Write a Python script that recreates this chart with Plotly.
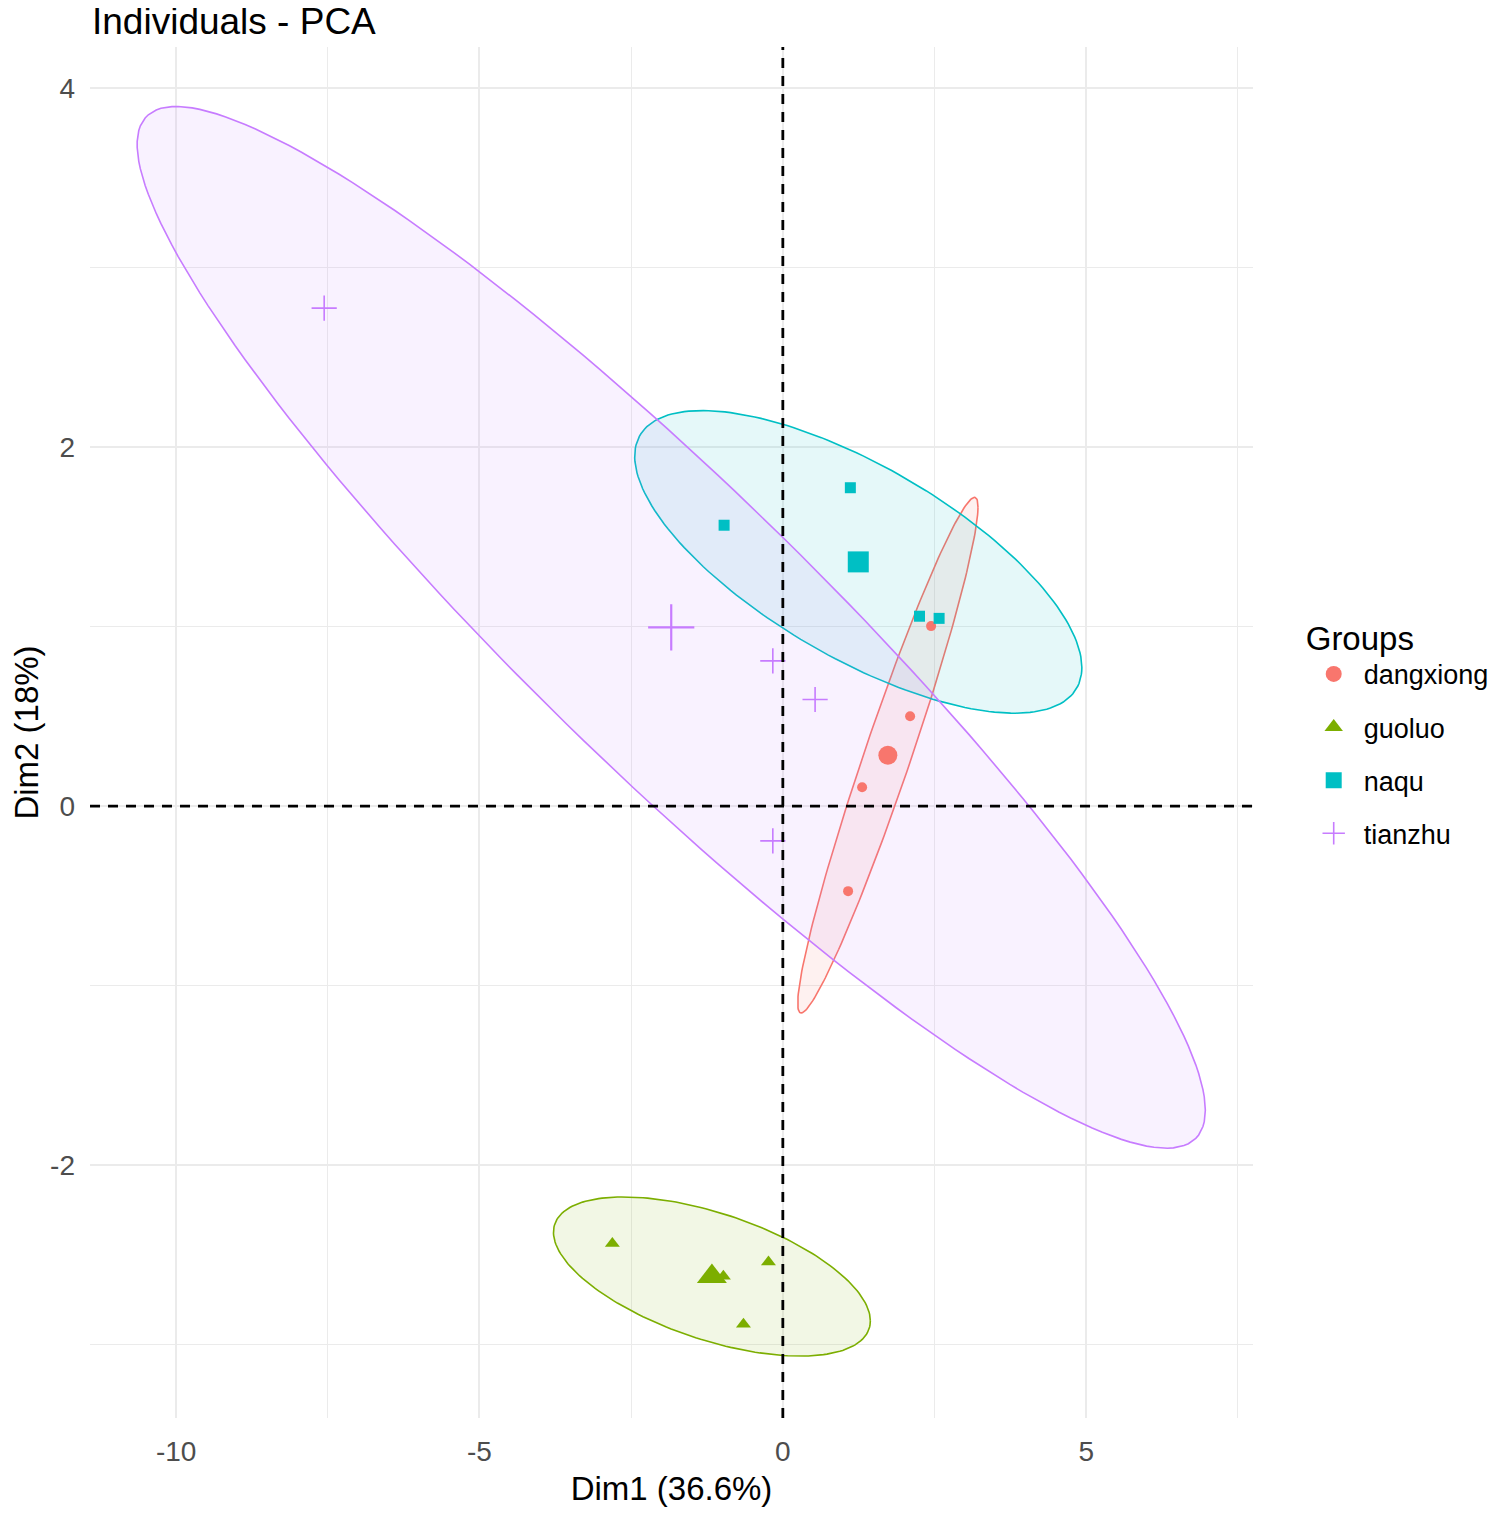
import numpy as np
import plotly.graph_objects as go

# ---------------- data ----------------
groups = ["dangxiong", "guoluo", "naqu", "tianzhu"]

dangxiong_x = [2.444, 2.098, 1.307, 1.076]
dangxiong_y = [1.003, 0.501, 0.105, -0.474]

guoluo_x = [-2.81, -0.237, -0.649, -0.98]
guoluo_y = [-2.437, -2.541, -2.888, -2.62]

naqu_x = [1.113, -0.968, 2.253, 2.576]
naqu_y = [1.774, 1.565, 1.058, 1.046]

tianzhu_x = [-7.56, -0.165, 0.532, -0.165]
tianzhu_y = [2.775, 0.809, 0.594, -0.194]

x_tick_vals = [-10, -5, 0, 5]
y_tick_vals = [-2, 0, 2, 4]

x_title = "Dim1 (36.6%)"
y_title = "Dim2 (18%)"
chart_title = "Individuals - PCA"
legend_title = "Groups"

# ---------------- styling ----------------
colors = {"dangxiong": "#F8766D", "guoluo": "#7CAE00", "naqu": "#00BFC4", "tianzhu": "#C77CFF"}
fills = {"dangxiong": "rgba(248,118,109,0.1)", "guoluo": "rgba(124,174,0,0.1)",
         "naqu": "rgba(0,191,196,0.1)", "tianzhu": "rgba(199,124,255,0.1)"}
symbols = {"dangxiong": "circle", "guoluo": "triangle-up", "naqu": "square", "tianzhu": "cross-thin"}
pt_size = {"dangxiong": 10, "guoluo": 13, "naqu": 11, "tianzhu": 18}
mean_size = {"dangxiong": 19, "guoluo": 26, "naqu": 21, "tianzhu": 33}
legend_size = {"dangxiong": 19, "guoluo": 22, "naqu": 20, "tianzhu": 28}
ELLIPSE_RADIUS = 2.3  # scale of the concentration ellipse

data = {
    "dangxiong": (dangxiong_x, dangxiong_y),
    "guoluo": (guoluo_x, guoluo_y),
    "naqu": (naqu_x, naqu_y),
    "tianzhu": (tianzhu_x, tianzhu_y),
}

FONT = "Liberation Sans, Arial, sans-serif"

fig = go.Figure()

t = np.linspace(0, 2 * np.pi, 200)
circle = np.vstack([np.cos(t), np.sin(t)])

# ellipses first (underneath)
for g in groups:
    gx, gy = np.array(data[g][0]), np.array(data[g][1])
    center = np.array([gx.mean(), gy.mean()])
    cov = np.cov(np.vstack([gx, gy]))
    L = np.linalg.cholesky(cov)
    ell = center[:, None] + ELLIPSE_RADIUS * (L @ circle)
    fig.add_trace(go.Scatter(
        x=ell[0], y=ell[1], mode="lines", fill="toself",
        fillcolor=fills[g], line=dict(color=colors[g], width=1.6),
        hoverinfo="skip", showlegend=False, legendgroup=g,
    ))

for g in groups:
    gx, gy = np.array(data[g][0]), np.array(data[g][1])
    col = colors[g]
    is_cross = symbols[g] == "cross-thin"
    def mk(size, lw):
        m = dict(symbol=symbols[g], size=size, color=col)
        if is_cross:
            m["line"] = dict(color=col, width=lw)
        else:
            m["line"] = dict(width=0)
        return m
    fig.add_trace(go.Scatter(
        x=gx, y=gy, mode="markers", marker=mk(pt_size[g], 1.6),
        name=g, legendgroup=g, showlegend=False,
    ))
    fig.add_trace(go.Scatter(
        x=[gx.mean()], y=[gy.mean()], mode="markers", marker=mk(mean_size[g], 2.2),
        name=g, legendgroup=g, showlegend=False, hoverinfo="skip",
    ))
    # legend entry
    fig.add_trace(go.Scatter(
        x=[None], y=[None], mode="markers", marker=mk(legend_size[g], 1.6),
        name=g, legendgroup=g, showlegend=True,
    ))

# reference lines at 0
fig.add_hline(y=0, line=dict(color="black", width=2.8, dash="10px,8px"))
fig.add_vline(x=0, line=dict(color="black", width=2.8, dash="10px,8px"))

grid = "#EBEBEB"
fig.update_layout(
    width=1500, height=1514,
    margin=dict(l=82, r=255, t=39, b=104),
    paper_bgcolor="white", plot_bgcolor="white",
    font=dict(family=FONT, color="black"),
    xaxis=dict(
        range=[-11.42, 7.75], tickvals=x_tick_vals, ticktext=[str(v) for v in x_tick_vals],
        showgrid=True, gridcolor=grid, gridwidth=1.6, zeroline=False, showline=False,
        ticks="", tickfont=dict(size=28, color="#4D4D4D", family=FONT), automargin=False,
        ticklabelstandoff=14,
        minor=dict(tickvals=[-7.5, -2.5, 2.5, 7.5], showgrid=True, gridcolor=grid, gridwidth=1.0, ticks=""),
        title=dict(text=x_title, font=dict(size=33, color="black", family=FONT), standoff=10),
    ),
    yaxis=dict(
        range=[-3.41, 4.23], tickvals=y_tick_vals, ticktext=[str(v) for v in y_tick_vals],
        showgrid=True, gridcolor=grid, gridwidth=1.6, zeroline=False, showline=False,
        ticks="", tickfont=dict(size=28, color="#4D4D4D", family=FONT), automargin=False,
        ticklabelstandoff=14,
        minor=dict(tickvals=[-3, -1, 1, 3], showgrid=True, gridcolor=grid, gridwidth=1.0, ticks=""),
        title=dict(text=y_title, font=dict(size=33, color="black", family=FONT), standoff=18),
    ),
    legend=dict(
        title=dict(text=legend_title, font=dict(size=33, color="black", family=FONT)),
        font=dict(size=27, color="black", family=FONT),
        x=1.0436, xanchor="left", y=0.500, yanchor="middle",
        traceorder="grouped", tracegroupgap=15, itemsizing="trace", itemwidth=50,
        bgcolor="rgba(0,0,0,0)",
    ),
    annotations=[dict(
        text=chart_title, xref="paper", yref="paper", x=0, y=1,
        xanchor="left", yanchor="bottom", yshift=3, showarrow=False,
        font=dict(size=37, color="black", family=FONT),
    )],
)

fig.write_html("out.html")
